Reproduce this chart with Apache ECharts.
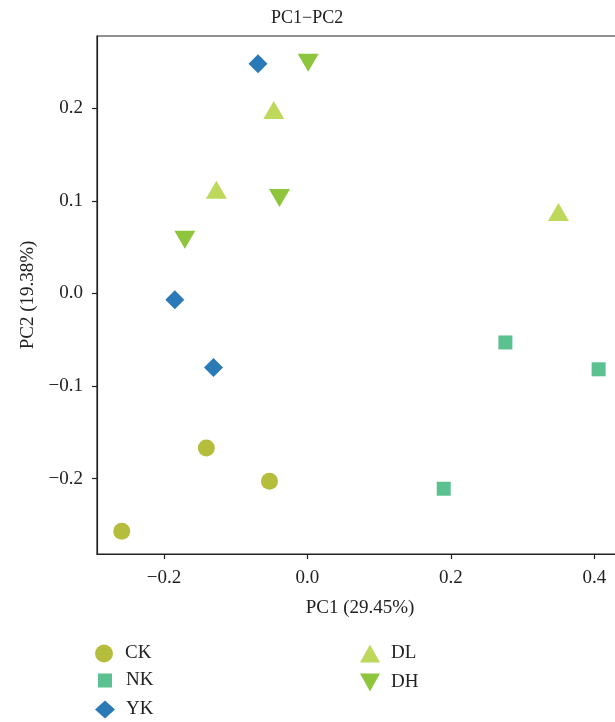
<!DOCTYPE html>
<html>
<head>
<meta charset="utf-8">
<script src="https://cdn.jsdelivr.net/npm/echarts@6/dist/echarts.min.js"></script>
<style>html,body{margin:0;padding:0;background:#fff;overflow:hidden;width:615px;height:722px;}#c{width:631px;height:722px;}</style>
</head>
<body>
<div id="c"></div>
<script>
const groups = ['CK', 'NK', 'YK', 'DL', 'DH'];
const ckPoints = [[-0.141, -0.167], [-0.053, -0.203], [-0.259, -0.257]];
const nkPoints = [[0.276, -0.053], [0.406, -0.082], [0.190, -0.211]];
const ykPoints = [[-0.069, 0.248], [-0.185, -0.007], [-0.131, -0.080]];
const dlPoints = [[-0.047, 0.198], [-0.127, 0.112], [0.350, 0.088]];
const dhPoints = [[0.001, 0.249], [-0.039, 0.103], [-0.171, 0.058]];
const xTicks = [-0.2, 0.0, 0.2, 0.4];
const yTicks = [-0.2, -0.1, 0.0, 0.1, 0.2];
const xRange = [-0.2935, 0.44];
const yRange = [-0.2815, 0.278];

const FONT = '"Liberation Serif", "DejaVu Serif", serif';
const FS = 19;
const fmt = v => (v < 0 ? '\u2212' : '') + Math.abs(v).toFixed(1);
const downTri = 'path://M0,0 L20,0 L10,18 Z';

const chart = echarts.init(document.getElementById('c'), null, {renderer: 'canvas'});
const seriesDefs = [
  {name: 'CK', data: ckPoints, symbol: 'circle', size: 17, color: '#b5bd3c'},
  {name: 'NK', data: nkPoints, symbol: 'rect', size: 14, color: '#5cc190'},
  {name: 'YK', data: ykPoints, symbol: 'diamond', size: 19, color: '#2a7ab8'},
  {name: 'DL', data: dlPoints, symbol: 'triangle', size: [21, 18], color: '#bdd85b'},
  {name: 'DH', data: dhPoints, symbol: downTri, size: [21, 18], color: '#8fc53d'}
];
const axisCommon = {
  axisLine: {show: true, onZero: false, lineStyle: {color: '#222', width: 1.2}},
  axisTick: {show: true, length: 5, lineStyle: {color: '#222', width: 1.2}},
  splitLine: {show: false},
  nameTextStyle: {fontFamily: FONT, fontSize: FS, color: '#222'}
};
const legendText = {fontFamily: FONT, fontSize: FS, color: '#222', padding: [0, 0, 0, 6]};
const legendBase = {orient: 'vertical', padding: 0, itemWidth: 20, itemHeight: 18, itemGap: 10, textStyle: legendText};
chart.setOption({
  animation: false,
  backgroundColor: '#fff',
  title: {
    text: 'PC1\u2212PC2', left: 266, top: 4,
    textStyle: {fontFamily: FONT, fontSize: 18, fontWeight: 'normal', color: '#222'}
  },
  grid: {left: 97, top: 36, right: 8, bottom: 168, show: true, borderColor: '#222', borderWidth: 1.2, containLabel: false},
  xAxis: Object.assign({}, axisCommon, {
    type: 'value', min: xRange[0], max: xRange[1],
    name: 'PC1 (29.45%)', nameLocation: 'middle', nameGap: 45,
    axisTick: Object.assign({}, axisCommon.axisTick, {customValues: xTicks}),
    axisLabel: {customValues: xTicks, formatter: fmt, margin: 15, fontFamily: FONT, fontSize: FS, color: '#222'}
  }),
  yAxis: Object.assign({}, axisCommon, {
    type: 'value', min: yRange[0], max: yRange[1],
    name: 'PC2 (19.38%)', nameLocation: 'middle', nameGap: 59,
    axisTick: Object.assign({}, axisCommon.axisTick, {customValues: yTicks}),
    axisLabel: {customValues: yTicks, formatter: fmt, margin: 14, fontFamily: FONT, fontSize: FS, color: '#222'}
  }),
  legend: [
    Object.assign({}, legendBase, {data: [groups[0]], left: 95, top: 644}),
    Object.assign({}, legendBase, {data: [groups[1]], left: 98, top: 671, itemWidth: 14, itemHeight: 14,
      textStyle: Object.assign({}, legendText, {padding: [0, 0, 0, 9]})}),
    Object.assign({}, legendBase, {data: [groups[2]], left: 95, top: 700}),
    Object.assign({}, legendBase, {data: groups.slice(3), left: 360, top: 644})
  ],
  series: seriesDefs.map(s => ({
    type: 'scatter', name: s.name, data: s.data, symbol: s.symbol, symbolSize: s.size,
    itemStyle: {color: s.color, opacity: 1}
  }))
});
</script>
</body>
</html>
